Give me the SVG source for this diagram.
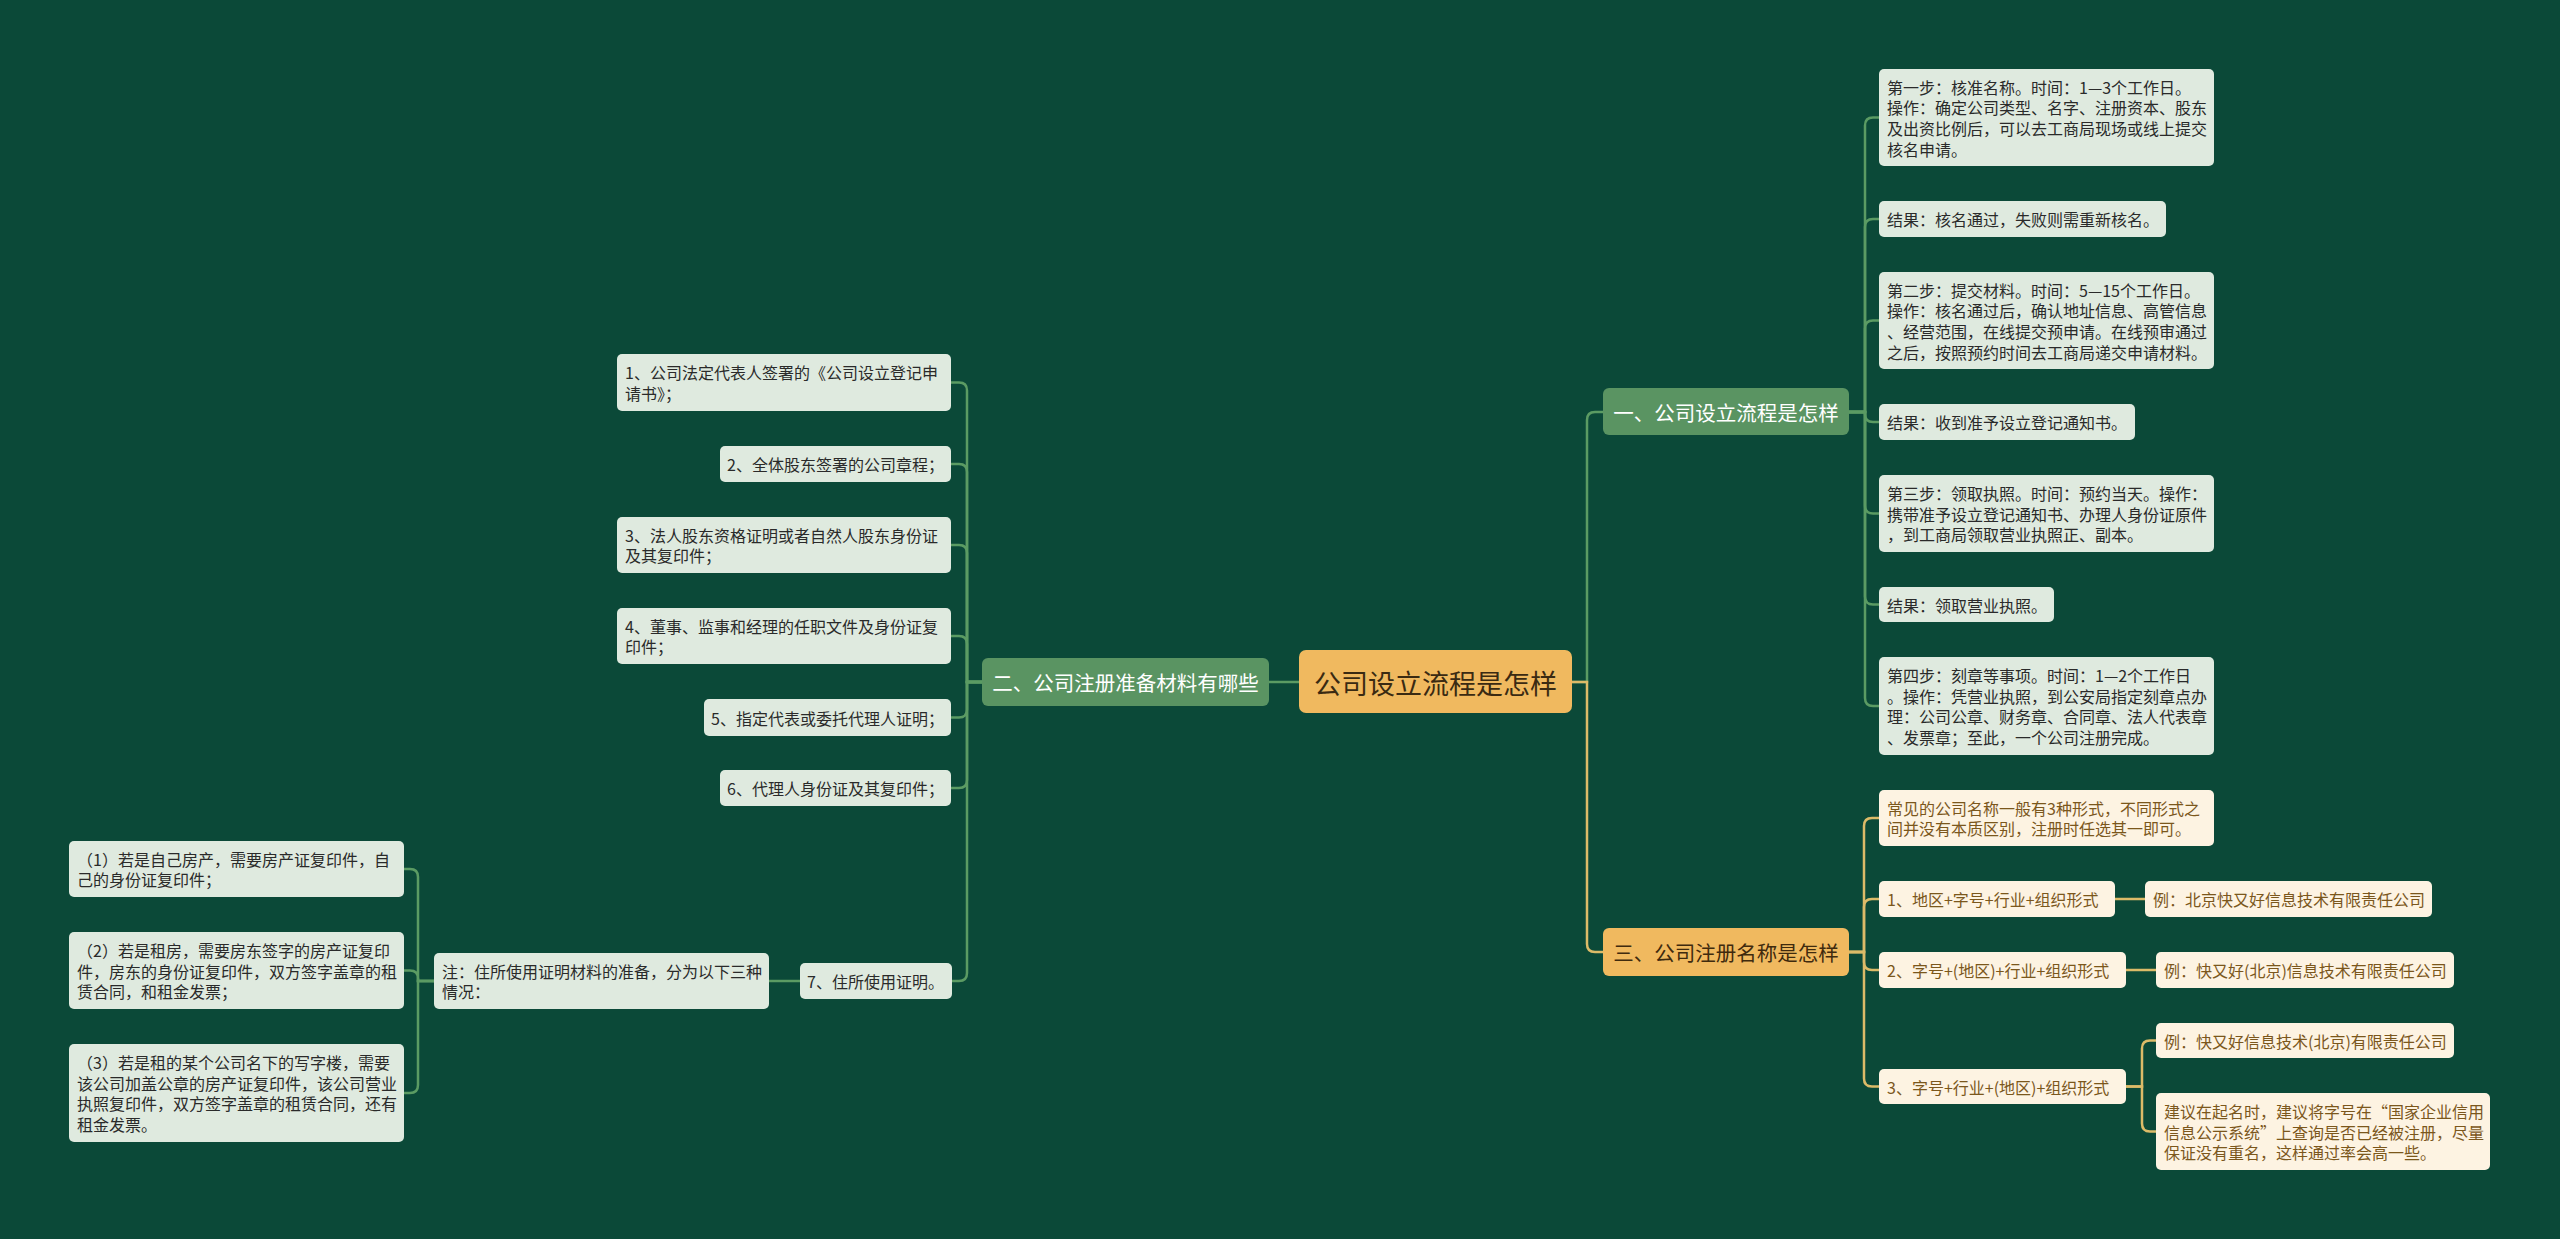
<svg xmlns="http://www.w3.org/2000/svg" width="2560" height="1239" viewBox="0 0 2560 1239">
<style>
text{font-family:"Noto Sans CJK SC","Noto Sans",sans-serif;dominant-baseline:central}
.bg{fill:#0b4938}
.gbox{fill:#dfeadf}
.gt{font-size:16px;fill:#2a2a2a}
.ybox{fill:#fdf3e2}
.yt{font-size:16px;fill:#7b571c}
.gbr{fill:#5a9462}
.gbrt{font-size:20.5px;fill:#ffffff}
.ybr{fill:#f0b95f}
.ybrt{font-size:20.5px;fill:#3f2a0e}
.root{fill:#f0b95f}
.roott{font-size:27px;fill:#3a2a12}
.cg{fill:none;stroke:#5b9b63;stroke-width:2.5}
.cy{fill:none;stroke:#dcbb68;stroke-width:2.5}
</style>
<rect class="bg" x="0" y="0" width="2560" height="1239"/>

<g id="connectors">
  <!-- root to branches -->
  <path class="cg" d="M1572 682 H1587 V420 Q1587 412 1595 412 H1603"/>
  <path class="cy" d="M1572 682 H1587 V944 Q1587 952 1595 952 H1603"/>
  <path class="cg" d="M1299 682 H1269"/>
  <!-- branch 1 children -->
  <path class="cg" d="M1849 412 H1865 V125.5 Q1865 117.5 1873 117.5 H1879"/>
  <path class="cg" d="M1849 412 H1865 V227 Q1865 219 1873 219 H1879"/>
  <path class="cg" d="M1849 412 H1865 V328.5 Q1865 320.5 1873 320.5 H1879"/>
  <path class="cg" d="M1849 412 H1865 V414 Q1865 422 1873 422 H1879"/>
  <path class="cg" d="M1849 412 H1865 V505.5 Q1865 513.5 1873 513.5 H1879"/>
  <path class="cg" d="M1849 412 H1865 V596.5 Q1865 604.5 1873 604.5 H1879"/>
  <path class="cg" d="M1849 412 H1865 V698 Q1865 706 1873 706 H1879"/>
  <!-- branch 2 children -->
  <path class="cg" d="M982 682 H967 V390.5 Q967 382.5 959 382.5 H951"/>
  <path class="cg" d="M982 682 H967 V472 Q967 464 959 464 H951"/>
  <path class="cg" d="M982 682 H967 V553 Q967 545 959 545 H951"/>
  <path class="cg" d="M982 682 H967 V644 Q967 636 959 636 H951"/>
  <path class="cg" d="M982 682 H967 V709.5 Q967 717.5 959 717.5 H951"/>
  <path class="cg" d="M982 682 H967 V780 Q967 788 959 788 H951"/>
  <path class="cg" d="M982 682 H967 V973 Q967 981 959 981 H952"/>
  <path class="cg" d="M800 981 H769"/>
  <path class="cg" d="M434 981 H418 V877 Q418 869 410 869 H404"/>
  <path class="cg" d="M434 981 H418 V978.5 Q418 970.5 410 970.5 H404"/>
  <path class="cg" d="M434 981 H418 V1085 Q418 1093 410 1093 H404"/>
  <!-- branch 3 children -->
  <path class="cy" d="M1849 952 H1864 V826 Q1864 818 1872 818 H1879"/>
  <path class="cy" d="M1849 952 H1864 V907 Q1864 899 1872 899 H1879"/>
  <path class="cy" d="M1849 952 H1864 V962 Q1864 970 1872 970 H1879"/>
  <path class="cy" d="M1849 952 H1864 V1078.5 Q1864 1086.5 1872 1086.5 H1879"/>
  <path class="cy" d="M2115 899 H2145"/>
  <path class="cy" d="M2126 970 H2156"/>
  <path class="cy" d="M2126 1086.5 H2142 V1048.5 Q2142 1040.5 2150 1040.5 H2156"/>
  <path class="cy" d="M2126 1086.5 H2142 V1123.5 Q2142 1131.5 2150 1131.5 H2156"/>
</g>

<g id="root">
  <rect class="root" x="1299" y="650" width="273" height="63" rx="7"/>
  <text class="roott" x="1435.5" y="682" text-anchor="middle">公司设立流程是怎样</text>
</g>

<g id="branch1">
  <rect class="gbr" x="1603" y="388" width="246" height="47" rx="6"/>
  <text class="gbrt" x="1726" y="412" text-anchor="middle">一、公司设立流程是怎样</text>
</g>
<g id="branch2">
  <rect class="gbr" x="982" y="658" width="287" height="48" rx="6"/>
  <text class="gbrt" x="1125.5" y="682" text-anchor="middle">二、公司注册准备材料有哪些</text>
</g>
<g id="branch3">
  <rect class="ybr" x="1603" y="928" width="246" height="48" rx="6"/>
  <text class="ybrt" x="1726" y="952" text-anchor="middle">三、公司注册名称是怎样</text>
</g>

<!-- branch 1 children -->
<g id="b1c1">
  <rect class="gbox" x="1879" y="69" width="335" height="97" rx="5"/>
  <text class="gt" x="1887" y="86.5">第一步：核准名称。时间：1—3个工作日。</text>
  <text class="gt" x="1887" y="107.2">操作：确定公司类型、名字、注册资本、股东</text>
  <text class="gt" x="1887" y="127.9">及出资比例后，可以去工商局现场或线上提交</text>
  <text class="gt" x="1887" y="148.6">核名申请。</text>
</g>
<g id="b1c2">
  <rect class="gbox" x="1879" y="201" width="287" height="36" rx="5"/>
  <text class="gt" x="1887" y="219">结果：核名通过，失败则需重新核名。</text>
</g>
<g id="b1c3">
  <rect class="gbox" x="1879" y="272" width="335" height="97" rx="5"/>
  <text class="gt" x="1887" y="289.5">第二步：提交材料。时间：5—15个工作日。</text>
  <text class="gt" x="1887" y="310.2">操作：核名通过后，确认地址信息、高管信息</text>
  <text class="gt" x="1887" y="330.9">、经营范围，在线提交预申请。在线预审通过</text>
  <text class="gt" x="1887" y="351.6">之后，按照预约时间去工商局递交申请材料。</text>
</g>
<g id="b1c4">
  <rect class="gbox" x="1879" y="404" width="256" height="36" rx="5"/>
  <text class="gt" x="1887" y="422">结果：收到准予设立登记通知书。</text>
</g>
<g id="b1c5">
  <rect class="gbox" x="1879" y="475" width="335" height="77" rx="5"/>
  <text class="gt" x="1887" y="492.8">第三步：领取执照。时间：预约当天。操作：</text>
  <text class="gt" x="1887" y="513.5">携带准予设立登记通知书、办理人身份证原件</text>
  <text class="gt" x="1887" y="534.2">，到工商局领取营业执照正、副本。</text>
</g>
<g id="b1c6">
  <rect class="gbox" x="1879" y="587" width="175" height="35" rx="5"/>
  <text class="gt" x="1887" y="604.5">结果：领取营业执照。</text>
</g>
<g id="b1c7">
  <rect class="gbox" x="1879" y="657" width="335" height="98" rx="5"/>
  <text class="gt" x="1887" y="675">第四步：刻章等事项。时间：1—2个工作日</text>
  <text class="gt" x="1887" y="695.7">。操作：凭营业执照，到公安局指定刻章点办</text>
  <text class="gt" x="1887" y="716.4">理：公司公章、财务章、合同章、法人代表章</text>
  <text class="gt" x="1887" y="737.1">、发票章；至此，一个公司注册完成。</text>
</g>

<!-- branch 2 children -->
<g id="b2c1">
  <rect class="gbox" x="617" y="354" width="334" height="57" rx="5"/>
  <text class="gt" x="625" y="372.2">1、公司法定代表人签署的《公司设立登记申</text>
  <text class="gt" x="625" y="392.9">请书》；</text>
</g>
<g id="b2c2">
  <rect class="gbox" x="720" y="446" width="231" height="36" rx="5"/>
  <text class="gt" x="727" y="464">2、全体股东签署的公司章程；</text>
</g>
<g id="b2c3">
  <rect class="gbox" x="617" y="517" width="334" height="56" rx="5"/>
  <text class="gt" x="625" y="534.7">3、法人股东资格证明或者自然人股东身份证</text>
  <text class="gt" x="625" y="555.4">及其复印件；</text>
</g>
<g id="b2c4">
  <rect class="gbox" x="617" y="608" width="334" height="56" rx="5"/>
  <text class="gt" x="625" y="625.7">4、董事、监事和经理的任职文件及身份证复</text>
  <text class="gt" x="625" y="646.4">印件；</text>
</g>
<g id="b2c5">
  <rect class="gbox" x="704" y="699" width="247" height="37" rx="5"/>
  <text class="gt" x="711" y="717.5">5、指定代表或委托代理人证明；</text>
</g>
<g id="b2c6">
  <rect class="gbox" x="720" y="770" width="231" height="36" rx="5"/>
  <text class="gt" x="727" y="788">6、代理人身份证及其复印件；</text>
</g>
<g id="b2c7">
  <rect class="gbox" x="800" y="963" width="152" height="36" rx="5"/>
  <text class="gt" x="807" y="981">7、住所使用证明。</text>
</g>
<g id="note">
  <rect class="gbox" x="434" y="953" width="335" height="56" rx="5"/>
  <text class="gt" x="442" y="970.6">注：住所使用证明材料的准备，分为以下三种</text>
  <text class="gt" x="442" y="991.3">情况：</text>
</g>
<g id="note1">
  <rect class="gbox" x="69" y="841" width="335" height="56" rx="5"/>
  <text class="gt" x="77" y="858.6">（1）若是自己房产，需要房产证复印件，自</text>
  <text class="gt" x="77" y="879.3">己的身份证复印件；</text>
</g>
<g id="note2">
  <rect class="gbox" x="69" y="932" width="335" height="77" rx="5"/>
  <text class="gt" x="77" y="949.8">（2）若是租房，需要房东签字的房产证复印</text>
  <text class="gt" x="77" y="970.5">件，房东的身份证复印件，双方签字盖章的租</text>
  <text class="gt" x="77" y="991.2">赁合同，和租金发票；</text>
</g>
<g id="note3">
  <rect class="gbox" x="69" y="1044" width="335" height="98" rx="5"/>
  <text class="gt" x="77" y="1062">（3）若是租的某个公司名下的写字楼，需要</text>
  <text class="gt" x="77" y="1082.7">该公司加盖公章的房产证复印件，该公司营业</text>
  <text class="gt" x="77" y="1103.4">执照复印件，双方签字盖章的租赁合同，还有</text>
  <text class="gt" x="77" y="1124.1">租金发票。</text>
</g>

<!-- branch 3 children -->
<g id="b3c1">
  <rect class="ybox" x="1879" y="790" width="335" height="56" rx="5"/>
  <text class="yt" x="1887" y="807.6">常见的公司名称一般有3种形式，不同形式之</text>
  <text class="yt" x="1887" y="828.3">间并没有本质区别，注册时任选其一即可。</text>
</g>
<g id="b3c2">
  <rect class="ybox" x="1879" y="881" width="236" height="36" rx="5"/>
  <text class="yt" x="1887" y="899">1、地区+字号+行业+组织形式</text>
</g>
<g id="b3c3">
  <rect class="ybox" x="1879" y="952" width="247" height="36" rx="5"/>
  <text class="yt" x="1887" y="970">2、字号+(地区)+行业+组织形式</text>
</g>
<g id="b3c4">
  <rect class="ybox" x="1879" y="1069" width="247" height="35" rx="5"/>
  <text class="yt" x="1887" y="1086.5">3、字号+行业+(地区)+组织形式</text>
</g>
<g id="ex1">
  <rect class="ybox" x="2145" y="881" width="287" height="36" rx="5"/>
  <text class="yt" x="2153" y="899">例：北京快又好信息技术有限责任公司</text>
</g>
<g id="ex2">
  <rect class="ybox" x="2156" y="952" width="298" height="36" rx="5"/>
  <text class="yt" x="2164" y="970">例：快又好(北京)信息技术有限责任公司</text>
</g>
<g id="ex3">
  <rect class="ybox" x="2156" y="1023" width="298" height="35" rx="5"/>
  <text class="yt" x="2164" y="1040.5">例：快又好信息技术(北京)有限责任公司</text>
</g>
<g id="advice">
  <rect class="ybox" x="2156" y="1093" width="334" height="77" rx="5"/>
  <text class="yt" x="2164" y="1110.8">建议在起名时，建议将字号在“国家企业信用</text>
  <text class="yt" x="2164" y="1131.5">信息公示系统”上查询是否已经被注册，尽量</text>
  <text class="yt" x="2164" y="1152.2">保证没有重名，这样通过率会高一些。</text>
</g>
</svg>
